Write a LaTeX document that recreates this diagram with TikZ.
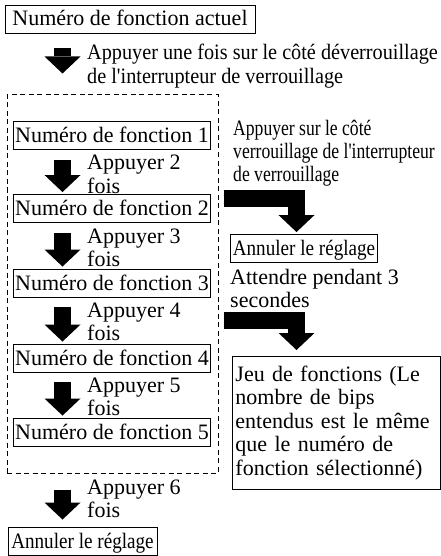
\documentclass[tikz,border=0pt]{standalone}
\usepackage{fontspec}
\setmainfont{Liberation Serif}
\newfontfamily\narrowfont[FakeStretch=0.92]{Liberation Serif}
\newfontfamily\tightfont[FakeStretch=0.87]{Liberation Serif}
\newfontfamily\tighterfont[FakeStretch=0.8]{Liberation Serif}
\usetikzlibrary{positioning,arrows.meta,calc}
\tikzset{
  modebox/.style={draw, line width=0.9pt, inner xsep=2pt, inner ysep=0pt,
    minimum height=28pt, text height=16pt, text depth=2pt,
    font=\fontsize{22}{23}\selectfont},
  modetext/.style={anchor=base west, align=left, inner sep=0pt,
    font=\fontsize{22}{23}\selectfont},
  blockarrow/.style={line width=17pt, line join=miter,
    -{Triangle[length=17pt, width=36pt, line width=0pt]}},
  grouprect/.style={draw, line width=1pt, dash pattern=on 5pt off 3.5pt},
}

\begin{document}
\begin{tikzpicture}[x=1pt, y=-1pt,
    notebox/.style={draw, line width=0.9pt, anchor=north west, align=left,
      text width=202pt, inner xsep=3pt, minimum height=133pt,
      font=\fontsize{22}{23.5}\selectfont}]
  \useasboundingbox (0,0) rectangle (441,556);
  % left column
  \node[modebox, minimum width=250pt] (cur) at (130,19) {Numéro de fonction actuel};
  \node[grouprect, minimum width=211pt, minimum height=378pt] (grp) at (112.5,284) {};
  \node[modebox, minimum width=190pt] (f1) at (112,135.5) {Numéro de fonction 1};
  \node[modebox, minimum width=190pt] (f2) at (112,208.5) {Numéro de fonction 2};
  \node[modebox, minimum width=190pt] (f3) at (112,283) {Numéro de fonction 3};
  \node[modebox, minimum width=190pt] (f4) at (112,358) {Numéro de fonction 4};
  \node[modebox, minimum width=190pt] (f5) at (112,432) {Numéro de fonction 5};
  \node[modebox, minimum width=149pt, font=\tightfont\fontsize{22}{23}\selectfont] (annul) at (82.5,541) {Annuler le réglage};

  % base = last line
  \node[modetext, font=\narrowfont\fontsize{22}{24.5}\selectfont] (t1) at (87,84)
    {Appuyer une fois sur le côté déverrouillage\\de l'interrupteur de verrouillage};
  \node[modetext] (t2) at (87,193) {Appuyer 2\\fois};
  \node[modetext] (t3) at (87,266) {Appuyer 3\\fois};
  \node[modetext] (t4) at (87,340.5) {Appuyer 4\\fois};
  \node[modetext] (t5) at (87,415.5) {Appuyer 5\\fois};
  \node[modetext] (t6) at (87,517) {Appuyer 6\\fois};

  \coordinate (ax) at (62.5,0);
  \draw[blockarrow, shorten <=15pt, shorten >=21pt] (cur.south -| ax) -- (grp.north -| ax);
  \draw[blockarrow, shorten <=10pt, shorten >=2pt] (f1.south -| ax) -- (f2.north -| ax);
  \draw[blockarrow, shorten <=10pt, shorten >=2pt] (f2.south -| ax) -- (f3.north -| ax);
  \draw[blockarrow, shorten <=10pt, shorten >=2pt] (f3.south -| ax) -- (f4.north -| ax);
  \draw[blockarrow, shorten <=10pt, shorten >=2pt] (f4.south -| ax) -- (f5.north -| ax);
  \draw[blockarrow, shorten <=16pt, shorten >=7pt] (grp.south -| ax) -- (annul.north -| ax);

  % right column
  \node[modetext, font=\tighterfont\fontsize{22}{23}\selectfont] (t7) at (233,182)
    {Appuyer sur le côté\\verrouillage de l'interrupteur\\de verrouillage};
  \node[modebox, minimum width=144pt, font=\tightfont\fontsize{22}{23}\selectfont] (annulr) at (304,248.5) {Annuler le réglage};
  \node[modetext] (t8) at (230,307) {Attendre pendant 3\\secondes};
  \node[notebox] (jeu) at (232,356)
    {Jeu de fonctions (Le\\nombre de bips\\entendus est le même\\que le numéro de\\fonction sélectionné)};

  \coordinate (k1) at (296.5,198.5);
  \coordinate (k2) at (296.5,320.5);
  \draw[blockarrow, shorten <=5pt, shorten >=2pt] (grp.east |- k1) -- (k1) -- (k1 |- annulr.north);
  \draw[blockarrow, shorten <=5pt, shorten >=6pt] (grp.east |- k2) -- (k2) -- (k2 |- jeu.north);
\end{tikzpicture}
\end{document}
